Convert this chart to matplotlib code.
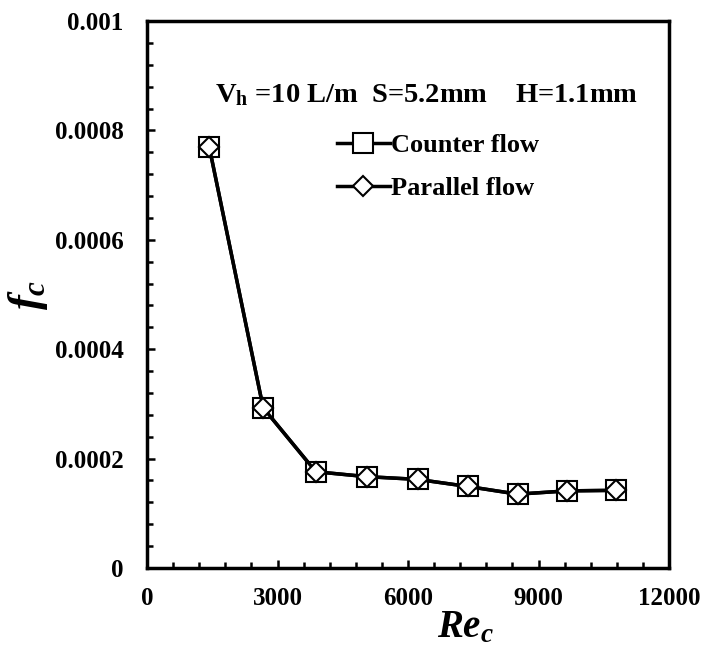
import matplotlib
matplotlib.use('Agg')
import matplotlib.pyplot as plt
from matplotlib.ticker import MultipleLocator, FuncFormatter

# data
re_c = [1430, 2670, 3880, 5050, 6220, 7380, 8520, 9660, 10790]
counter_fc = [0.000770, 0.000293, 0.000176, 0.000167, 0.000162, 0.000149, 0.000135, 0.000141, 0.000142]
parallel_fc = [0.000770, 0.000293, 0.000176, 0.000167, 0.000162, 0.000149, 0.000135, 0.000141, 0.000142]

plt.rcParams['font.family'] = ['Liberation Serif', 'DejaVu Serif']
plt.rcParams['font.weight'] = 'bold'
plt.rcParams['mathtext.fontset'] = 'custom'
plt.rcParams['mathtext.rm'] = 'Liberation Serif:bold'
plt.rcParams['mathtext.it'] = 'Liberation Serif:italic:bold'
plt.rcParams['mathtext.bf'] = 'Liberation Serif:bold'

fig = plt.figure(figsize=(7.04, 6.52), dpi=100)
ax = fig.add_axes([147 / 704, 1 - 568 / 652, 522 / 704, 547 / 652])

ax.plot(re_c, counter_fc, color='black', lw=2.5, marker='s', ms=14,
        mfc='white', mec='black', mew=1.5, label='Counter flow', zorder=3)
ax.plot(re_c, parallel_fc, color='black', lw=2.5, marker='D', ms=10,
        mfc='white', mec='black', mew=1.5, label='Parallel flow', zorder=4)

ax.set_xlim(0, 12000)
ax.set_ylim(0, 0.001)
ax.xaxis.set_major_locator(MultipleLocator(3000))
ax.xaxis.set_minor_locator(MultipleLocator(600))
ax.yaxis.set_major_locator(MultipleLocator(0.0002))
ax.yaxis.set_minor_locator(MultipleLocator(0.00004))
ax.yaxis.set_major_formatter(FuncFormatter(lambda v, p: '%g' % round(v, 6)))

ax.tick_params(which='both', direction='in', top=False, right=False, width=1.8)
ax.tick_params(which='major', length=6, labelsize=18)
ax.tick_params(axis='x', which='major', pad=14)
ax.tick_params(axis='y', which='major', pad=17)
ax.tick_params(which='minor', length=4)
for s in ax.spines.values():
    s.set_linewidth(2.5)

ax.set_xlabel('$Re_c$', fontsize=28, labelpad=0)
ax.xaxis.set_label_coords(0.61, -0.075)
ax.set_ylabel('$f_c$', fontsize=32, va='center')
ax.yaxis.set_label_coords(-0.228, 0.5)

ax.text(0.13, 0.865, r'$\mathrm{V_h}$ =10 L/m  S=5.2mm    H=1.1mm', transform=ax.transAxes,
        fontsize=20.5, ha='left', va='center')

ax.legend(loc='upper left', bbox_to_anchor=(0.364, 0.794), frameon=False, fontsize=19,
          handlelength=2.0, handletextpad=0.05, labelspacing=0.75, borderpad=0,
          borderaxespad=0)

fig.savefig('out.png', dpi=100)
